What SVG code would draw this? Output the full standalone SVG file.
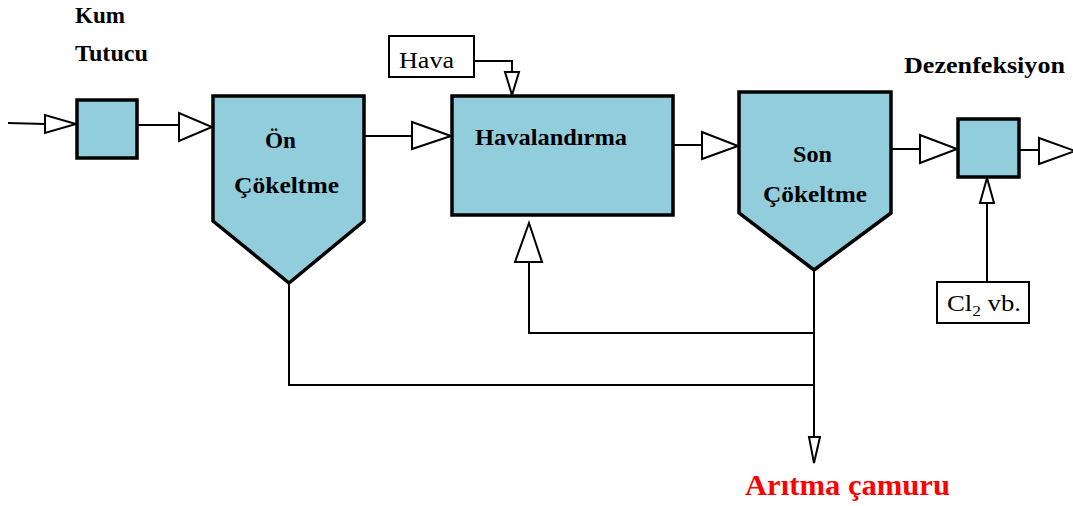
<svg xmlns="http://www.w3.org/2000/svg" width="1073" height="506" viewBox="0 0 1073 506">
<style>
.box{fill:#92cddc;stroke:#000;stroke-width:3.5;stroke-linejoin:miter}
.lbl{fill:#fff;stroke:#000;stroke-width:2}
.ln{fill:none;stroke:#000;stroke-width:2}
.arr{fill:#fff;stroke:#000;stroke-width:2;stroke-linejoin:miter}
.b{font-family:"Liberation Serif","Times New Roman",serif;font-weight:700;font-size:23px;fill:#000}
.r{font-family:"Liberation Serif","Times New Roman",serif;font-size:23px;fill:#000}
.red{font-family:"Liberation Serif","Times New Roman",serif;font-weight:700;font-size:30px;fill:#ff0000}
</style>
<rect width="1073" height="506" fill="#fff"/>
<g id="connectors">
<line class="ln" x1="8" y1="123" x2="45" y2="124"/>
<polygon class="arr" points="45,115 45,133 76,124"/>
<line class="ln" x1="137" y1="125" x2="179" y2="125"/>
<polygon class="arr" points="179,113 179,141 212,127"/>
<line class="ln" x1="364" y1="136" x2="412" y2="136"/>
<polygon class="arr" points="412,122 412,149 451,136"/>
<polyline class="ln" points="474,61 512,61 512,72"/>
<polygon class="arr" points="505,72 519,72 512,95"/>
<line class="ln" x1="673" y1="145" x2="702" y2="145"/>
<polygon class="arr" points="702,132 702,159 738,146"/>
<line class="ln" x1="891" y1="149" x2="920" y2="149"/>
<polygon class="arr" points="920,135 920,163 957,149"/>
<line class="ln" x1="1019" y1="150" x2="1039" y2="150"/>
<polygon class="arr" points="1039,138 1039,164 1075,151"/>
<line class="ln" x1="987" y1="203" x2="987" y2="282"/>
<polygon class="arr" points="980,203 994,203 987,178"/>
<polyline class="ln" points="814,333 529,333 529,262"/>
<polygon class="arr" points="515,262 542,262 529,223"/>
<line class="ln" x1="814" y1="270" x2="814" y2="437"/>
<polygon class="arr" points="809,437 820,437 814,463"/>
<polyline class="ln" points="289,283 289,385 814,385"/>
</g>
<g id="kum-tutucu">
<rect class="box" x="77" y="100" width="60" height="58"/>
<text class="b" x="75" y="23" textLength="50" lengthAdjust="spacingAndGlyphs">Kum</text>
<text class="b" x="75" y="61" textLength="73" lengthAdjust="spacingAndGlyphs">Tutucu</text>
</g>
<g id="on-cokeltme">
<path class="box" d="M213,96 L364,96 L364,221 L289,283 L213,221 Z"/>
<text class="b" x="265" y="148" textLength="31" lengthAdjust="spacingAndGlyphs">Ön</text>
<text class="b" x="234" y="193" textLength="105" lengthAdjust="spacingAndGlyphs">Çökeltme</text>
</g>
<g id="hava">
<rect class="lbl" x="389" y="36" width="85" height="41"/>
<text class="r" x="399" y="68" textLength="55" lengthAdjust="spacingAndGlyphs">Hava</text>
</g>
<g id="havalandirma">
<rect class="box" x="452" y="96" width="221" height="119"/>
<text class="b" x="475" y="145" textLength="152" lengthAdjust="spacingAndGlyphs">Havalandırma</text>
</g>
<g id="son-cokeltme">
<path class="box" d="M739,92 L891,92 L891,213 L814,270 L739,213 Z"/>
<text class="b" x="793" y="162" textLength="39" lengthAdjust="spacingAndGlyphs">Son</text>
<text class="b" x="763" y="202" textLength="104" lengthAdjust="spacingAndGlyphs">Çökeltme</text>
</g>
<g id="dezenfeksiyon">
<rect class="box" x="958" y="119" width="61" height="58"/>
<text class="b" x="904" y="73" textLength="161" lengthAdjust="spacingAndGlyphs">Dezenfeksiyon</text>
</g>
<g id="cl2">
<rect class="lbl" x="937" y="282" width="92" height="41"/>
<text class="r" x="947" y="311" textLength="74" lengthAdjust="spacingAndGlyphs">Cl<tspan font-size="15" dy="5">2</tspan><tspan dy="-5"> vb.</tspan></text>
</g>
<g id="aritma-camuru">
<text class="red" x="745" y="495" textLength="205" lengthAdjust="spacingAndGlyphs">Arıtma çamuru</text>
</g>
</svg>
